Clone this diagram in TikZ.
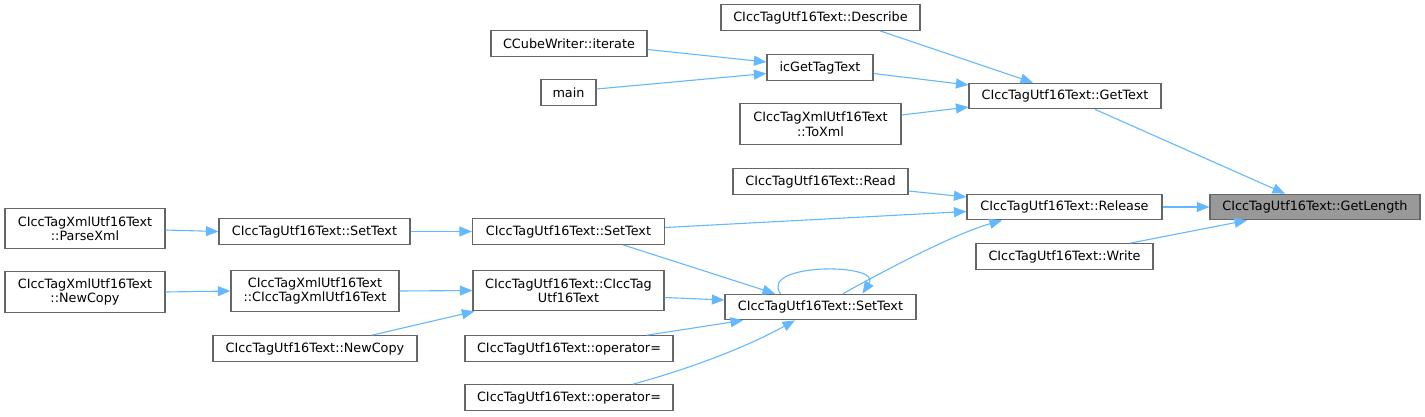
\documentclass[tikz,border=0pt]{standalone}
\usepackage{fontspec}
\setmainfont{DejaVu Sans}
\usetikzlibrary{arrows.meta,calc}
\definecolor{edgeblue}{HTML}{63B8FF}
\definecolor{boxgray}{HTML}{666666}
\definecolor{hilite}{HTML}{999999}
\begin{document}
\begin{tikzpicture}[x=1pt,y=-1pt,
  box/.style={draw=boxgray, line width=1.2pt, fill=white, inner sep=0pt,
    minimum height=25.5pt, align=center, text=black,
    font=\fontsize{12.8}{14.5}\selectfont},
  tall/.style={box, minimum height=40.5pt},
  call/.style={draw=edgeblue, line width=1.1pt,
    -{Triangle[length=12.5pt,width=10pt]}, shorten >=0pt}]
\useasboundingbox (0,0) rectangle (1425,416);

\node[box, minimum width=199pt] (describe) at (820.5,17.5) {CIccTagUtf16Text::Describe};
\node[box, minimum width=156pt] (iterate) at (569,43.5) {CCubeWriter::iterate};
\node[box, minimum width=106pt] (icget) at (820,67.5) {icGetTagText};
\node[box, minimum width=55pt] (main) at (568.5,92.5) {main};
\node[box, minimum width=192pt] (gettext) at (1065,96) {CIccTagUtf16Text::GetText};
\node[tall, minimum width=161pt] (toxml) at (820.5,124) {CIccTagXmlUtf16Text\\::ToXml};
\node[box, minimum width=175pt] (read) at (820.5,181.5) {CIccTagUtf16Text::Read};
\node[box, minimum width=195pt] (release) at (1064.5,207) {CIccTagUtf16Text::Release};
\node[box, minimum width=210pt, fill=hilite] (getlength) at (1315,207) {CIccTagUtf16Text::GetLength};
\node[box, minimum width=177pt] (write) at (1064.5,256.5) {CIccTagUtf16Text::Write};
\node[tall, minimum width=160pt] (parsexml) at (85,228.5) {CIccTagXmlUtf16Text\\::ParseXml};
\node[box, minimum width=191pt] (setL) at (314.5,231.5) {CIccTagUtf16Text::SetText};
\node[box, minimum width=192pt] (setM) at (568.5,231.5) {CIccTagUtf16Text::SetText};
\node[tall, minimum width=160pt] (newcopyX) at (85,292) {CIccTagXmlUtf16Text\\::NewCopy};
\node[tall, minimum width=168pt] (ctorX) at (315,291) {CIccTagXmlUtf16Text\\::CIccTagXmlUtf16Text};
\node[tall, minimum width=191pt] (ctorU) at (568.5,290.5) {CIccTagUtf16Text::CIccTag\\Utf16Text};
\node[box, minimum width=191pt] (setB) at (820.5,307) {CIccTagUtf16Text::SetText};
\node[box, minimum width=204pt] (newcopyU) at (315,348.5) {CIccTagUtf16Text::NewCopy};
\node[box, minimum width=208pt] (op1) at (569,348.5) {CIccTagUtf16Text::operator=};
\node[box, minimum width=208pt] (op2) at (569,397.5) {CIccTagUtf16Text::operator=};

% edges
\draw[call] ($(iterate.east)+(0,6)$) -- ($(icget.west)+(0,-5.5)$);
\draw[call] ($(main.east)+(0,-3.5)$) -- ($(icget.west)+(0,6)$);
\draw[call] ($(describe.south)+(59.5,0)$) -- ($(gettext.north)+(-32,0)$);
\draw[call] ($(icget.east)+(0,6)$) -- ($(gettext.west)+(0,-11)$);
\draw[call] ($(toxml.east)+(0,-9)$) -- ($(gettext.west)+(0,11)$);
\draw[call] ($(gettext.south)+(30,0)$) -- ($(getlength.north)+(-30,0)$);
\draw[call] ($(read.east)+(0,9.5)$) -- ($(release.west)+(0,-10)$);
\draw[call] ($(setM.east)+(0,-4)$) -- ($(release.west)+(0,4.5)$);
\draw[call] ($(setB.north)+(22.5,0)$) .. controls ($(setB.north)+(80,-32)$) and ($(release.south)+(-105,12)$) .. ($(release.south)+(-62.5,0)$);
\draw[call] (release.east) -- (getlength.west);
\draw[call] ($(write.north)+(65.5,0)$) -- ($(getlength.south)+(-68,0)$);
\draw[call] ($(parsexml.east)+(0,1.5)$) -- (setL.west);
\draw[call] (setL.east) -- (setM.west);
\draw[call] ($(setM.south)+(54.5,0)$) -- ($(setB.north)+(-45.5,0)$);
\draw[call] ($(setB.north)+(-40,0)$) .. controls ($(setB.north)+(-62,-31)$) and ($(setB.north)+(62,-31)$) .. ($(setB.north)+(42,0)$);
\draw[call] (newcopyX.east) -- (ctorX.west);
\draw[call] (ctorX.east) -- (ctorU.west);
\draw[call] ($(newcopyU.north)+(57,0)$) -- ($(ctorU.south west)+(2,0)$);
\draw[call] ($(ctorU.east)+(0,7)$) -- ($(setB.west)+(0,-7)$);
\draw[call] ($(op1.north)+(78,0)$) -- ($(setB.south)+(-77.5,0)$);
\draw[call] ($(op2.north)+(64,0)$) .. controls ($(op2.north)+(112,-13)$) and ($(setB.south)+(-80,30)$) .. ($(setB.south)+(-25.5,0)$);
\end{tikzpicture}
\end{document}
